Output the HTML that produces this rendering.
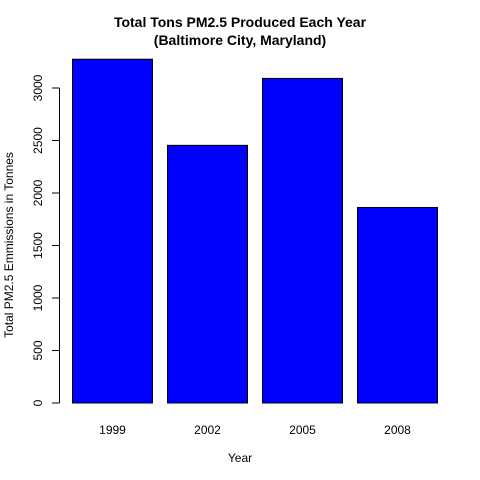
<!DOCTYPE html>
<html><head><meta charset="utf-8"><style>
body{margin:0;background:#fff}
svg{display:block;font-family:"Liberation Sans",Arial,sans-serif}
</style></head><body>
<svg id="chart" width="480" height="480" viewBox="0 0 480 480">
<text x="240" y="27" text-anchor="middle" font-size="14" font-weight="bold">Total Tons PM2.5 Produced Each Year</text>
<text x="240" y="45" text-anchor="middle" font-size="14" font-weight="bold">(Baltimore City, Maryland)</text>
<text x="240" y="462" text-anchor="middle" font-size="12">Year</text>
<text transform="translate(13,245) rotate(-90)" text-anchor="middle" font-size="12">Total PM2.5 Emmissions in Tonnes</text>
<g id="bars"></g>
<g id="yaxis"></g>
<g id="xlabels"></g>
</svg>
<script>
const categories=["1999","2002","2005","2008"];
const values=[3274.18,2453.92,3091.35,1862.28];
const yTicks=[0,500,1000,1500,2000,2500,3000];
const NS="http://www.w3.org/2000/svg";
const y0=403,pxPer=(403-88)/3000;
function y(v){return y0-v*pxPer;}
function x(i){return 72.5+i*95;}
const bw=80;
const bars=document.getElementById('bars');
categories.forEach((c,i)=>{
 const r=document.createElementNS(NS,'rect');
 r.setAttribute('x',x(i));r.setAttribute('y',y(values[i]));
 r.setAttribute('width',bw);r.setAttribute('height',y0-y(values[i]));
 r.setAttribute('fill','#0000ff');r.setAttribute('stroke','#000');r.setAttribute('stroke-width','1');
 
 
 bars.appendChild(r);
 const t=document.createElementNS(NS,'text');
 t.setAttribute('x',x(i)+bw/2);t.setAttribute('y',434);
 t.setAttribute('text-anchor','middle');t.setAttribute('font-size','12');
 t.textContent=c;
 
 
 document.getElementById('xlabels').appendChild(t);
});
const ya=document.getElementById('yaxis');
const l=document.createElementNS(NS,'line');
l.setAttribute('x1',59.5);l.setAttribute('x2',59.5);l.setAttribute('y1',y(yTicks[0]));l.setAttribute('y2',y(yTicks[yTicks.length-1]));
l.setAttribute('stroke','#000');


ya.appendChild(l);
yTicks.forEach(v=>{
 const tk=document.createElementNS(NS,'line');
 tk.setAttribute('x1',52);tk.setAttribute('x2',59.5);tk.setAttribute('y1',y(v));tk.setAttribute('y2',y(v));
 tk.setAttribute('stroke','#000');
 
 
 ya.appendChild(tk);
 const t=document.createElementNS(NS,'text');
 t.setAttribute('transform','translate(42,'+y(v)+') rotate(-90)');
 t.setAttribute('text-anchor','middle');t.setAttribute('font-size','12');
 t.textContent=v;
 
 
 ya.appendChild(t);
});
</script>
</body></html>
